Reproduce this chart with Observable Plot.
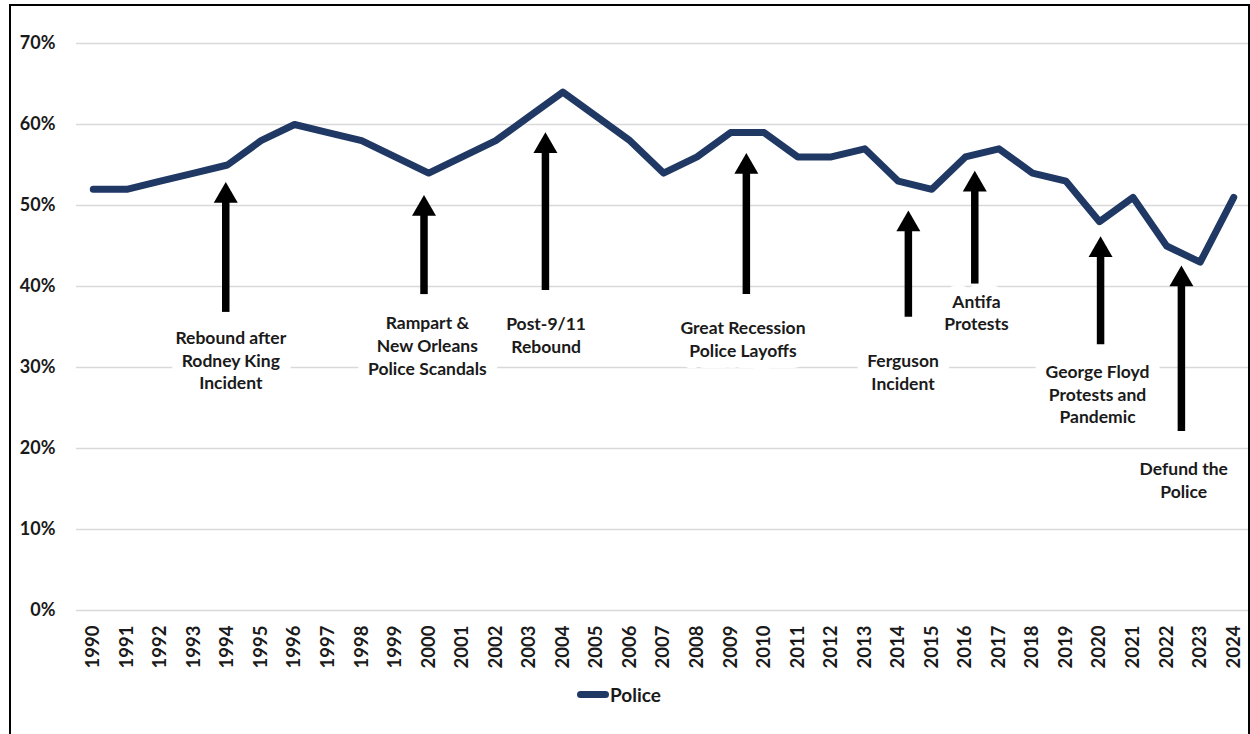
<!DOCTYPE html>
<html>
<head>
<meta charset="utf-8">
<script src="https://cdn.jsdelivr.net/npm/d3@7"></script>
<script src="https://cdn.jsdelivr.net/npm/@observablehq/plot@0.6"></script>
<style>
  html, body { margin: 0; padding: 0; background: #fff; }
  #wrap { position: relative; width: 1250px; height: 734px; overflow: hidden; font-family: Lato, "Open Sans", sans-serif; }
  #frame { position: absolute; left: 9px; top: 4px; width: 1237px; height: 760px; border: 2px solid #000; pointer-events: none; }
  #legend { display: flex; align-items: center; height: 28px; padding-left: 577px; font-weight: bold; font-size: 19px; color: #1a1a1a; }
  #legend .sw { width: 32px; height: 7px; border-radius: 4px; background: #203864; margin-right: 1px; }
</style>
</head>
<body>
<div id="wrap">
  <div id="chart"></div>
  <div id="legend"><span class="sw"></span><span>Police</span></div>
  <div id="frame"></div>
</div>
<script>
const years = [1990,1991,1992,1993,1994,1995,1996,1997,1998,1999,2000,2001,2002,2003,2004,2005,2006,2007,2008,2009,2010,2011,2012,2013,2014,2015,2016,2017,2018,2019,2020,2021,2022,2023,2024];
const police = [52,52,53,54,55,58,60,59,58,56,54,56,58,61,64,61,58,54,56,59,59,56,56,57,53,52,56,57,54,53,48,51,45,43,51];
const yTicks = [0,10,20,30,40,50,60,70];

// annotations (positions in data units: year, percent)
const noteLabels = ["Rebound after\nRodney King\nIncident", "Rampart &\nNew Orleans\nPolice Scandals", "Post-9/11\nRebound", "Great Recession\nPolice Layoffs", "Ferguson\nIncident", "Antifa\nProtests", "George Floyd\nProtests and\nPandemic", "Defund the\nPolice"];
const noteLabelX = [1994.1, 1999.96, 2003.5, 2009.37, 2014.14, 2016.33, 2019.94, 2022.51];
const noteLabelY = [31.0, 32.8, 34.1, 33.6, 29.5, 36.9, 26.8, 16.2];
const arrowX = [1993.95, 1999.86, 2003.48, 2009.47, 2014.30, 2016.28, 2020.03, 2022.44];
const arrowTip = [52.9, 51.3, 59.05, 56.5, 49.4, 54.3, 46.2, 42.6];
const arrowBase = [36.8, 39.0, 39.5, 39.0, 36.2, 40.3, 32.8, 22.1];

const series = years.map((y, i) => ({year: y, value: police[i]}));
const labels = noteLabels.map((t, i) => ({text: t, x: noteLabelX[i], y: noteLabelY[i]}));
const arrows = arrowX.map((x, i) => ({x, tip: arrowTip[i], base: arrowBase[i], shaftTop: arrowTip[i] - 1.5}));

const navy = "#203864";
const textOpts = {x: "x", y: "y", text: "text", fontSize: 17.5, fontWeight: "bold", lineHeight: 1.3, textAnchor: "middle", lineAnchor: "middle"};

const chart = Plot.plot({
  width: 1250,
  height: 680,
  marginLeft: 76,
  marginRight: 0,
  marginTop: 43,
  marginBottom: 70,
  style: {fontFamily: "Lato, 'Open Sans', sans-serif", color: "#1a1a1a", background: "transparent"},
  x: {type: "linear", domain: [1989.5, 2024.5]},
  y: {domain: [0, 70]},
  marks: [
    Plot.gridY(yTicks, {stroke: "#d9d9d9", strokeOpacity: 1, strokeWidth: 1.3}),
    Plot.axisY(yTicks, {tickSize: 0, tickPadding: 21, tickFormat: d => d + "%", fontSize: 18, fontWeight: "bold", label: null}),
    Plot.axisX(years, {tickSize: 0, tickPadding: 15, tickRotate: -90, tickFormat: d => String(d), fontSize: 18.5, fontWeight: "bold", label: null}),
    Plot.line(series, {x: "year", y: "value", stroke: navy, strokeWidth: 7, strokeLinejoin: "round", strokeLinecap: "round"}),
    Plot.text(labels, {...textOpts, fill: "white", stroke: "white", strokeWidth: 22, strokeLinejoin: "round"}),
    Plot.text(labels, {...textOpts, fill: "#1a1a1a"}),
    Plot.ruleX(arrows, {x: "x", y1: "base", y2: "shaftTop", stroke: "#000", strokeWidth: 7.5}),
    Plot.dot(arrows, {x: "x", y: "tip", dy: 13.9, symbol: "triangle", r: 8.9, fill: "#000", stroke: "none"})
  ]
});
document.getElementById("chart").appendChild(chart);
</script>
</body>
</html>
